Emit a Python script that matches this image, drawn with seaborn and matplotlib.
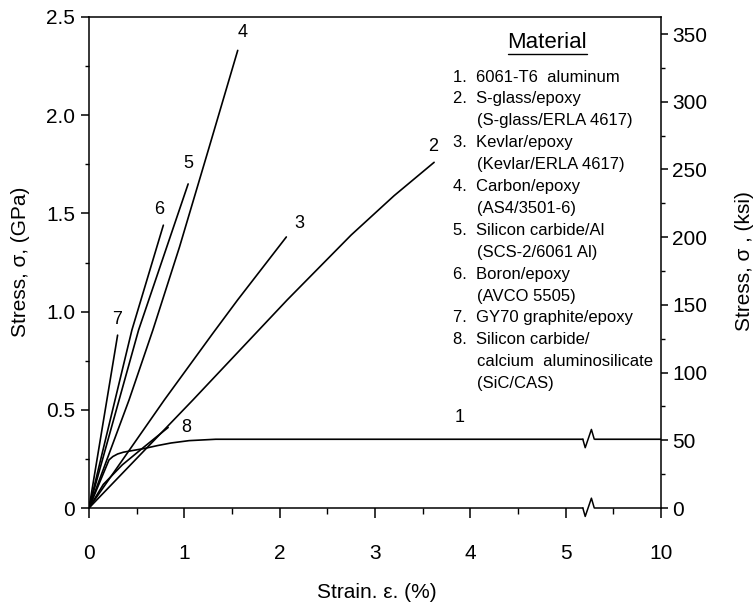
import numpy as np
import pandas as pd
import matplotlib
matplotlib.use("Agg")
import matplotlib.pyplot as plt
import seaborn as sns
from matplotlib.ticker import FixedLocator, MultipleLocator

# ---------------- data (strain in %, stress in GPa) ----------------
al_strain = [0, 0.21, 0.25, 0.30, 0.36, 0.45, 0.58, 0.72, 0.86, 1.05, 1.33, 10]
al_stress = [0, 0.245, 0.262, 0.275, 0.284, 0.292, 0.303, 0.318, 0.331, 0.343, 0.35, 0.35]
sglass_strain = [0, 1.09, 2.08, 2.75, 3.20, 3.62]
sglass_stress = [0, 0.55, 1.06, 1.39, 1.59, 1.76]
kevlar_strain = [0, 0.79, 1.30, 1.56, 2.07]
kevlar_stress = [0, 0.55, 0.89, 1.06, 1.38]
carbon_strain = [0, 0.42, 0.67, 0.95, 1.25, 1.56]
carbon_stress = [0, 0.55, 0.906, 1.33, 1.82, 2.33]
sical_strain = [0, 0.52, 1.04]
sical_stress = [0, 0.906, 1.65]
boron_strain = [0, 0.45, 0.78]
boron_stress = [0, 0.906, 1.44]
gy70_strain = [0, 0.30]
gy70_stress = [0, 0.88]
siccas_strain = [0, 0.15, 0.35, 0.55, 0.83]
siccas_stress = [0, 0.12, 0.22, 0.30, 0.41]

curve_ids = ["1", "2", "3", "4", "5", "6", "7", "8"]
x_ticks = [0, 1, 2, 3, 4, 5, 10]
x_ticklabels = ["0", "1", "2", "3", "4", "5", "10"]
y_ticks = [0, 0.5, 1.0, 1.5, 2.0, 2.5]
y_ticklabels = ["0", "0.5", "1.0", "1.5", "2.0", "2.5"]
ksi_ticks = [0, 50, 100, 150, 200, 250, 300, 350]
GPA_TO_KSI = 145.04

legend_lines = [
    ("1.  6061-T6  aluminum", 0),
    ("2.  S-glass/epoxy", 0),
    ("(S-glass/ERLA 4617)", 1),
    ("3.  Kevlar/epoxy", 0),
    ("(Kevlar/ERLA 4617)", 1),
    ("4.  Carbon/epoxy", 0),
    ("(AS4/3501-6)", 1),
    ("5.  Silicon carbide/Al", 0),
    ("(SCS-2/6061 Al)", 1),
    ("6.  Boron/epoxy", 0),
    ("(AVCO 5505)", 1),
    ("7.  GY70 graphite/epoxy", 0),
    ("8.  Silicon carbide/", 0),
    ("calcium  aluminosilicate", 1),
    ("(SiC/CAS)", 1),
]

# label placement (data coords)
label_pos = {"1": (3.89, 0.46), "2": (3.61, 1.84), "3": (2.21, 1.45),
             "4": (1.61, 2.42), "5": (1.04, 1.755), "6": (0.74, 1.52),
             "7": (0.29, 0.96), "8": (1.02, 0.41)}

all_x = [al_strain, sglass_strain, kevlar_strain, carbon_strain,
         sical_strain, boron_strain, gy70_strain, siccas_strain]
all_y = [al_stress, sglass_stress, kevlar_stress, carbon_stress,
         sical_stress, boron_stress, gy70_stress, siccas_stress]
df = pd.concat([pd.DataFrame({"strain": xs, "stress": ys, "curve": cid})
                for cid, xs, ys in zip(curve_ids, all_x, all_y)],
               ignore_index=True)

# ---------------- style ----------------
sns.set_style("ticks")
plt.rcParams["font.family"] = ["Liberation Sans", "DejaVu Sans"]
plt.rcParams["axes.linewidth"] = 1.1
plt.rcParams["text.color"] = "black"
plt.rcParams["xtick.color"] = "black"
plt.rcParams["ytick.color"] = "black"
plt.rcParams["axes.edgecolor"] = "black"

fig = plt.figure(figsize=(7.53, 6.06), dpi=100)
W, H = 753, 606
L, R, T, B = 89, 661, 17, 508
ax = fig.add_axes([L / W, 1 - B / H, (R - L) / W, (B - T) / H])


def fwd(x):
    x = np.asarray(x, dtype=float)
    return np.where(x <= 5, x, 5 + (x - 5) / 5)


def inv(d):
    d = np.asarray(d, dtype=float)
    return np.where(d <= 5, d, 5 + (d - 5) * 5)


ax.set_xscale("function", functions=(fwd, inv))

sns.lineplot(data=df, x="strain", y="stress", units="curve", estimator=None,
             sort=False, color="black", linewidth=1.2, ax=ax, legend=False)

ax.set_xlim(0, 10)
ax.set_ylim(0, 2.5)
ax.xaxis.set_major_locator(FixedLocator(x_ticks))
ax.set_xticklabels(x_ticklabels)
ax.xaxis.set_minor_locator(FixedLocator([0.5, 1.5, 2.5, 3.5, 4.5, 7.5]))
ax.set_yticks(y_ticks)
ax.set_yticklabels(y_ticklabels)
ax.yaxis.set_minor_locator(MultipleLocator(0.25))
ax.tick_params(axis="x", which="major", direction="out", length=7, width=1.1,
               pad=19, labelsize=15, colors="black")
ax.tick_params(axis="x", which="minor", direction="out", length=4, width=1.0)
ax.tick_params(axis="y", which="major", direction="out", length=6, width=1.1,
               pad=4, labelsize=15, colors="black")
ax.tick_params(axis="y", which="minor", direction="out", length=3, width=1.0)
ax.set_xlabel("")
ax.set_ylabel("")
ax.spines["right"].set_visible(False)

ax2 = ax.twinx()
ax2.set_ylim(0, 2.5 * GPA_TO_KSI)
ax2.set_yticks(ksi_ticks)
ax2.yaxis.set_minor_locator(MultipleLocator(25))
ax2.tick_params(axis="y", which="major", direction="out", length=5, width=1.1,
                pad=3, labelsize=15, colors="black")
ax2.tick_params(axis="y", which="minor", direction="out", length=3, width=1.0)
for s in ["bottom", "top", "left"]:
    ax2.spines[s].set_visible(False)
ax2.spines["right"].set_linewidth(1.1)


# axis-break marks
def draw_break(y):
    xs = inv([5.18, 5.205, 5.27, 5.30])
    ys = [y, y - 0.043, y + 0.05, y]
    ax.plot(inv([5.18, 5.30]), [y, y], color="white", lw=3.5, zorder=6,
            clip_on=False, solid_capstyle="butt")
    ax.plot(xs, ys, color="black", lw=1.1, zorder=7, clip_on=False)


draw_break(0.0)
draw_break(al_stress[-1])

# curve numbers
for cid in curve_ids:
    x, y = label_pos[cid]
    ax.text(x, y, cid, fontsize=13, ha="center", va="center", color="black")

# legend-like text block
fig.text(547 / W, 1 - 42 / H, "Material", fontsize=16, ha="center",
         va="center")
fig.add_artist(plt.Line2D([508 / W, 587 / W], [1 - 54 / H, 1 - 54 / H],
                          color="black", lw=1.0))
for i, (txt, indent) in enumerate(legend_lines):
    xpx = 453 if indent == 0 else 477
    ypx = 77 + i * 21.9
    fig.text(xpx / W, 1 - ypx / H, txt, fontsize=12, ha="left",
             va="center")

# axis labels
fig.text(21 / W, 1 - 262 / H, "Stress, σ, (GPa)", fontsize=15,
         rotation=90, ha="center", va="center")
fig.text(745 / W, 1 - 261 / H, "Stress, σ , (ksi)", fontsize=15,
         rotation=90, ha="center", va="center")
fig.text(377 / W, 1 - 593 / H, "Strain. ε. (%)", fontsize=15,
         ha="center", va="center")

fig.savefig("out.png", dpi=100)
